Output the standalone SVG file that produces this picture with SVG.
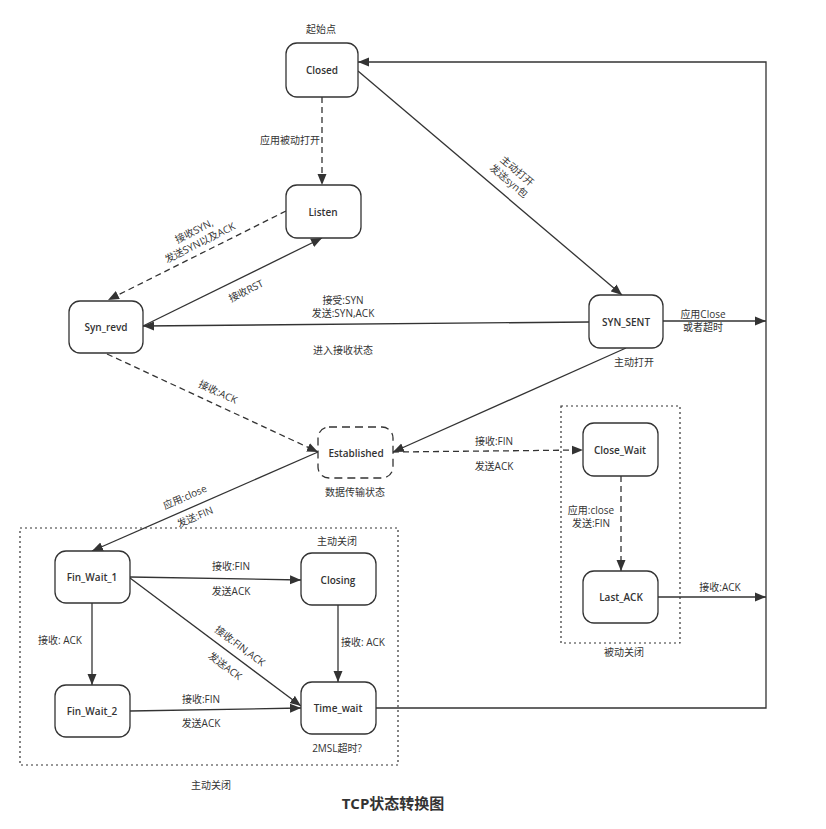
<svg xmlns="http://www.w3.org/2000/svg" width="826" height="829" viewBox="0 0 826 829">
<defs>
<marker id="arr" markerWidth="12" markerHeight="10" refX="11" refY="5" orient="auto" markerUnits="userSpaceOnUse">
<path d="M0,0.5 L11,5 L0,9.5 Z" fill="#333"/>
</marker>
<style>
.node rect{fill:#fff;stroke:#333;stroke-width:1.3}
.node text{font-family:"Open Sans","Noto Sans CJK SC",sans-serif;font-size:10px;font-weight:600;fill:#333;text-anchor:middle}
.c{fill:none;stroke:#333;stroke-width:1.3}
.d{stroke-dasharray:6 4}
.box{fill:none;stroke:#333;stroke-width:1.2;stroke-dasharray:2 3}
text{font-family:"Open Sans","Noto Sans CJK SC",sans-serif;font-size:10px;fill:#333}
.m{text-anchor:middle}
.e{text-anchor:end}
</style>
</defs>
<rect width="826" height="829" fill="#fff"/>

<!-- boxes -->
<rect class="box" x="561" y="406" width="119" height="237"/>
<rect class="box" x="20" y="528" width="378" height="237"/>

<g id="connectors">
<line class="c d" x1="322" y1="97" x2="322" y2="185" marker-end="url(#arr)"/>
<line class="c" x1="358" y1="71" x2="622" y2="295" marker-end="url(#arr)"/>
<line class="c d" x1="286" y1="211" x2="108" y2="300" marker-end="url(#arr)"/>
<line class="c" x1="143" y1="326" x2="322" y2="238" marker-end="url(#arr)"/>
<line class="c" x1="589" y1="322" x2="143" y2="326" marker-end="url(#arr)"/>
<line class="c" x1="663" y1="321" x2="766" y2="321" marker-end="url(#arr)"/>
<line class="c" x1="626" y1="348" x2="393" y2="452" marker-end="url(#arr)"/>
<line class="c d" x1="107" y1="354" x2="318" y2="452" marker-end="url(#arr)"/>
<line class="c d" x1="393" y1="452" x2="583" y2="450" marker-end="url(#arr)"/>
<line class="c" x1="318" y1="452" x2="92" y2="551" marker-end="url(#arr)"/>
<line class="c d" x1="621" y1="476" x2="621" y2="571" marker-end="url(#arr)"/>
<line class="c" x1="658" y1="597" x2="766" y2="597" marker-end="url(#arr)"/>
<line class="c" x1="130" y1="577" x2="301" y2="580" marker-end="url(#arr)"/>
<line class="c" x1="130" y1="578" x2="301" y2="706" marker-end="url(#arr)"/>
<line class="c" x1="92" y1="603" x2="92" y2="685" marker-end="url(#arr)"/>
<line class="c" x1="338" y1="605" x2="338" y2="682" marker-end="url(#arr)"/>
<line class="c" x1="130" y1="711" x2="301" y2="708" marker-end="url(#arr)"/>
<polyline class="c" points="376,708 766,708 766,62 358,62" marker-end="url(#arr)"/>
</g>

<g id="n-closed" class="node"><rect x="286" y="43" width="72" height="54" rx="11"/><text x="322" y="74">Closed</text></g>
<g id="n-listen" class="node"><rect x="286" y="185" width="75" height="53" rx="11"/><text x="323" y="216">Listen</text></g>
<g id="n-synrevd" class="node"><rect x="69" y="301" width="74" height="52" rx="11"/><text x="106" y="331">Syn_revd</text></g>
<g id="n-synsent" class="node"><rect x="589" y="295" width="74" height="53" rx="11"/><text x="626" y="326">SYN_SENT</text></g>
<g id="n-established" class="node"><rect x="318" y="427" width="75" height="51" rx="11" style="stroke-dasharray:8 5"/><text x="356" y="457">Established</text></g>
<g id="n-closewait" class="node"><rect x="583" y="423" width="75" height="53" rx="11"/><text x="620" y="454">Close_Wait</text></g>
<g id="n-lastack" class="node"><rect x="583" y="571" width="75" height="52" rx="11"/><text x="621" y="601">Last_ACK</text></g>
<g id="n-finwait1" class="node"><rect x="55" y="551" width="75" height="52" rx="11"/><text x="92" y="581">Fin_Wait_1</text></g>
<g id="n-closing" class="node"><rect x="301" y="553" width="75" height="52" rx="11"/><text x="338" y="584">Closing</text></g>
<g id="n-finwait2" class="node"><rect x="55" y="685" width="75" height="52" rx="11"/><text x="92" y="715">Fin_Wait_2</text></g>
<g id="n-timewait" class="node"><rect x="301" y="682" width="75" height="52" rx="11"/><text x="338" y="712">Time_wait</text></g>

<g id="labels">
<text class="m" x="321" y="33">起始点</text>
<text class="e" x="320" y="144">应用被动打开</text>
<g transform="translate(513,176) rotate(40)"><text class="m" x="0" y="-3">主动打开</text><text class="m" x="0" y="10">发送syn包</text></g>
<g transform="translate(197,237) rotate(-26.6)"><text class="m" x="0" y="-3">接收SYN,</text><text class="m" x="0" y="10">发送SYN以及ACK</text></g>
<g transform="translate(246,291) rotate(-26.2)"><text class="m" x="0" y="3.5">接收RST</text></g>
<text class="m" x="343" y="304">接受:SYN</text>
<text class="m" x="343" y="317">发送:SYN,ACK</text>
<text class="m" x="343" y="354">进入接收状态</text>
<text class="m" x="703" y="318">应用Close</text>
<text class="m" x="703" y="331">或者超时</text>
<text class="m" x="634" y="366">主动打开</text>
<g transform="translate(218,392) rotate(25)"><text class="m" x="0" y="3.5">接收:ACK</text></g>
<text class="m" x="494" y="445">接收:FIN</text>
<text class="m" x="494" y="470">发送ACK</text>
<text class="m" x="355" y="496">数据传输状态</text>
<g transform="translate(185,497) rotate(-23.4)"><text class="m" x="0" y="3.5">应用:close</text></g>
<g transform="translate(195,517) rotate(-23.4)"><text class="m" x="0" y="3.5">发送:FIN</text></g>
<text class="m" x="591" y="514">应用:close</text>
<text class="m" x="591" y="527">发送:FIN</text>
<text class="m" x="720" y="591">接收:ACK</text>
<text class="m" x="624" y="656">被动关闭</text>
<text class="m" x="337" y="545">主动关闭</text>
<text class="m" x="231" y="570">接收:FIN</text>
<text class="m" x="231" y="595">发送ACK</text>
<g transform="translate(240,646) rotate(36.8)"><text class="m" x="0" y="3.5">接收:FIN,ACK</text></g>
<g transform="translate(225,666) rotate(36.8)"><text class="m" x="0" y="3.5">发送ACK</text></g>
<text class="m" x="60" y="644">接收: ACK</text>
<text class="m" x="363" y="646">接收: ACK</text>
<text class="m" x="201" y="703">接收:FIN</text>
<text class="m" x="201" y="727">发送ACK</text>
<text class="m" x="337" y="752">2MSL超时?</text>
<text class="m" x="211" y="789">主动关闭</text>
<text class="m" x="393" y="809" style="font-size:15px;font-weight:700">TCP状态转换图</text>
</g>
</svg>
